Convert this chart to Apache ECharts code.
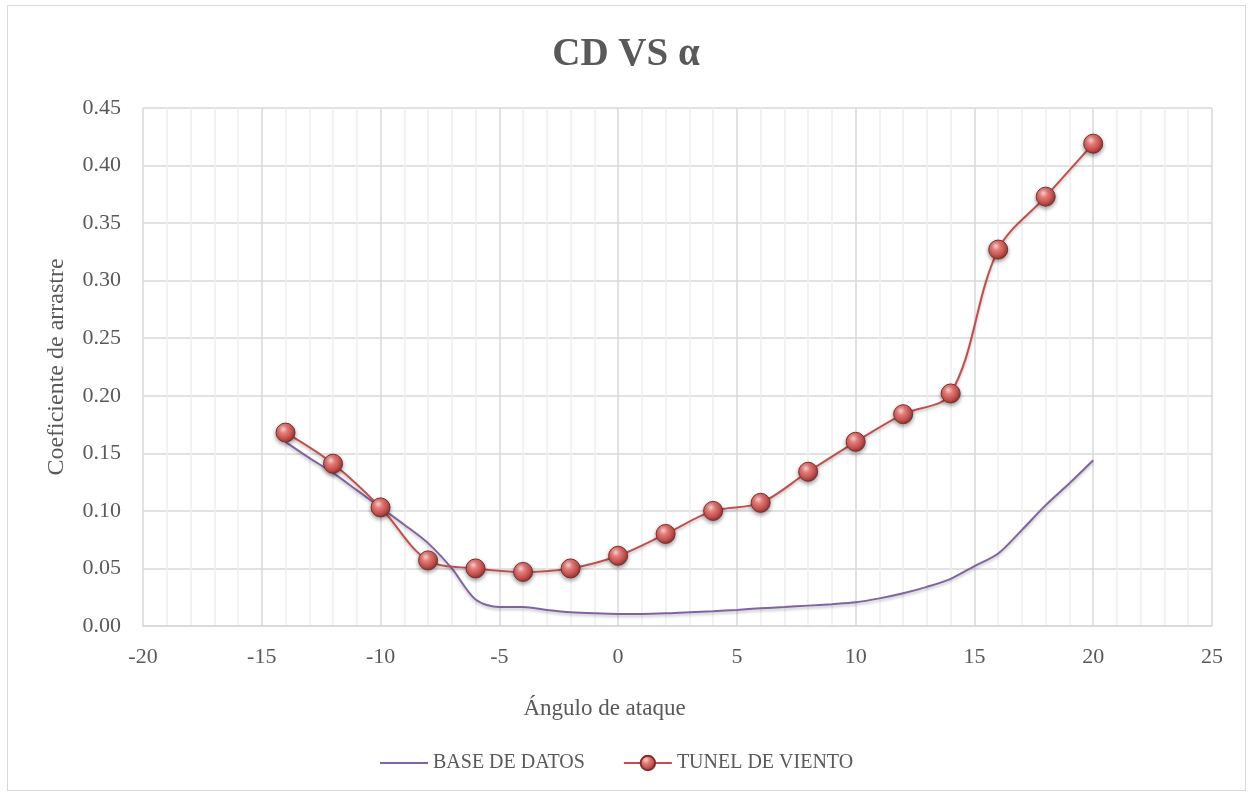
<!DOCTYPE html>
<html>
<head>
<meta charset="utf-8">
<script src="https://cdn.jsdelivr.net/npm/echarts@6/dist/echarts.min.js"></script>
<style>
html,body{margin:0;padding:0;background:#fff;}
#frame{position:absolute;left:7px;top:5px;width:1239px;height:786px;border:1px solid #d9d9d9;box-sizing:border-box;}
#chart{position:absolute;left:0;top:0;width:1252px;height:794px;}
</style>
</head>
<body>
<div id="frame"></div>
<div id="chart"></div>
<script>
const titleText = 'CD VS α';
const xAxisName = 'Ángulo de ataque';
const yAxisName = 'Coeficiente de arrastre';
const seriesNames = ['BASE DE DATOS', 'TUNEL DE VIENTO'];

const baseAngles = [-14,-13,-12,-11,-10,-9,-8,-7,-6,-5,-4,-3,-2,-1,0,1,2,3,4,5,6,7,8,9,10,11,12,13,14,15,16,17,18,19,20];
const baseCD = [0.160,0.146,0.133,0.118,0.103,0.088,0.072,0.050,0.023,0.0165,0.0165,0.014,0.012,0.011,0.0105,0.0105,0.011,0.012,0.0128,0.014,0.0154,0.0165,0.0177,0.019,0.0206,0.024,0.0284,0.034,0.041,0.052,0.063,0.0835,0.105,0.124,0.144];

const tunelAngles = [-14,-12,-10,-8,-6,-4,-2,0,2,4,6,8,10,12,14,16,18,20];
const tunelCD = [0.168,0.141,0.103,0.057,0.050,0.047,0.050,0.061,0.080,0.100,0.107,0.134,0.160,0.184,0.202,0.327,0.373,0.419];

const FONT = 'Liberation Serif';
const TXT = '#595959';

const chart = echarts.init(document.getElementById('chart'));
chart.setOption({
  animation: false,
  title: {
    text: titleText, left: 'center', top: 30,
    textStyle: { fontFamily: FONT, fontSize: 39, fontWeight: 'bold', color: TXT }
  },
  legend: {
    bottom: 16, left: 375, itemGap: 38, itemWidth: 48, itemHeight: 18,
    textStyle: { fontFamily: FONT, fontSize: 20, color: TXT },
    data: [
      { name: seriesNames[0], icon: 'path://M0,0L48,0L48,2L0,2Z' },
      { name: seriesNames[1] }
    ]
  },
  grid: { left: 143, right: 40, top: 108, bottom: 168 },
  xAxis: {
    type: 'value', min: -20, max: 25, interval: 5,
    name: xAxisName, nameLocation: 'middle', nameGap: 71,
    nameTextStyle: { fontFamily: FONT, fontSize: 23, color: TXT, padding: [0, 146, 0, 0] },
    axisLine: { show: true, lineStyle: { color: '#d9d9d9', width: 1.5 } },
    axisTick: { show: false },
    axisLabel: { margin: 20, fontFamily: FONT, fontSize: 22, color: TXT },
    splitLine: { show: true, lineStyle: { color: '#d9d9d9', width: 1.5 } },
    minorTick: { show: false, splitNumber: 5 },
    minorSplitLine: { show: true, lineStyle: { color: '#eeeeee', width: 1.5 } }
  },
  yAxis: {
    type: 'value', min: 0, max: 0.45, interval: 0.05,
    name: yAxisName, nameLocation: 'middle', nameGap: 74,
    nameTextStyle: { fontFamily: FONT, fontSize: 24, color: TXT },
    axisLine: { show: false },
    axisTick: { show: false },
    axisLabel: { margin: 22, fontFamily: FONT, fontSize: 22, color: TXT, formatter: v => v.toFixed(2) },
    splitLine: { show: true, lineStyle: { color: '#d9d9d9', width: 1.5 } }
  },
  series: [
    {
      name: seriesNames[0], type: 'line', smooth: 0.3, showSymbol: false, symbol: 'none',
      data: baseAngles.map((a, i) => [a, baseCD[i]]),
      lineStyle: { color: '#8064a2', width: 2, shadowColor: 'rgba(0,0,0,0.25)', shadowBlur: 3, shadowOffsetY: 2 },
      itemStyle: { color: '#8064a2' },
      z: 2
    },
    {
      name: seriesNames[1], type: 'line', smooth: 0.35, symbol: 'circle', symbolSize: 19,
      data: tunelAngles.map((a, i) => [a, tunelCD[i]]),
      lineStyle: { color: '#c0504d', width: 2, shadowColor: 'rgba(0,0,0,0.25)', shadowBlur: 3, shadowOffsetY: 2 },
      itemStyle: {
        color: {
          type: 'radial', x: 0.38, y: 0.32, r: 0.72,
          colorStops: [
            { offset: 0, color: '#fbd3d1' },
            { offset: 0.3, color: '#e57c78' },
            { offset: 0.7, color: '#c0504d' },
            { offset: 1, color: '#8a2d2a' }
          ]
        },
        borderColor: '#7d2e2b', borderWidth: 1,
        shadowColor: 'rgba(0,0,0,0.4)', shadowBlur: 4, shadowOffsetY: 2
      },
      z: 3
    }
  ]
});
</script>
</body>
</html>
